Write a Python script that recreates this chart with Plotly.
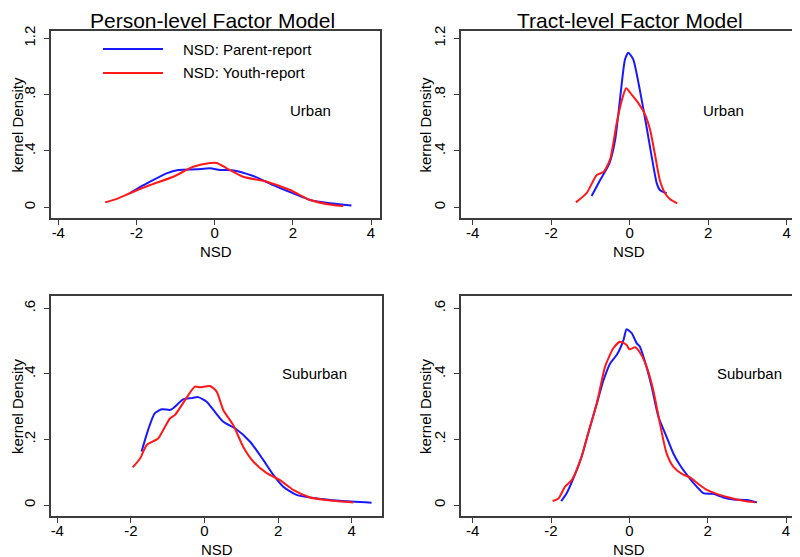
import plotly.graph_objects as go

# ---------------- data ----------------
# Person-level, Urban
pu_parent_x = [-2.17, -1.9, -1.65, -1.23, -0.93, -0.46, -0.12, 0.14, 0.48, 0.99, 1.5, 2.01, 2.44, 2.95, 3.5]
pu_parent_y = [0.10, 0.145, 0.182, 0.241, 0.265, 0.27, 0.277, 0.265, 0.262, 0.222, 0.158, 0.099, 0.052, 0.028, 0.012]
pu_youth_x = [-2.8, -2.5, -2.17, -1.65, -1.06, -0.55, -0.16, 0.05, 0.31, 0.73, 1.33, 1.93, 2.44, 3.03, 3.29]
pu_youth_y = [0.035, 0.06, 0.10, 0.158, 0.217, 0.288, 0.313, 0.315, 0.277, 0.217, 0.182, 0.123, 0.052, 0.016, 0.01]

# Tract-level, Urban
tu_parent_x = [-0.97, -0.76, -0.52, -0.37, -0.25, -0.12, -0.035, 0.09, 0.26, 0.43, 0.56, 0.69, 0.77, 0.94]
tu_parent_y = [0.08, 0.19, 0.31, 0.48, 0.76, 1.05, 1.098, 1.05, 0.83, 0.57, 0.36, 0.17, 0.123, 0.10]
tu_youth_x = [-1.37, -1.10, -0.84, -0.67, -0.50, -0.33, -0.20, -0.09, 0.05, 0.22, 0.39, 0.52, 0.64, 0.77, 0.90, 1.03, 1.21]
tu_youth_y = [0.035, 0.10, 0.23, 0.25, 0.34, 0.60, 0.76, 0.845, 0.80, 0.74, 0.66, 0.55, 0.38, 0.19, 0.10, 0.057, 0.028]

# Person-level, Suburban
ps_parent_x = [-1.71, -1.53, -1.35, -1.16, -0.94, -0.85, -0.58, -0.35, -0.17, 0.06, 0.24, 0.51, 0.83, 1.24, 1.6, 1.87, 2.14, 2.5, 3.05, 3.68, 4.54]
ps_parent_y = [0.163, 0.23, 0.28, 0.292, 0.29, 0.295, 0.322, 0.326, 0.329, 0.315, 0.29, 0.254, 0.234, 0.193, 0.137, 0.092, 0.056, 0.031, 0.02, 0.013, 0.007]
ps_youth_x = [-1.95, -1.75, -1.57, -1.26, -1.12, -0.94, -0.8, -0.53, -0.26, -0.12, 0.15, 0.33, 0.51, 0.78, 1.05, 1.33, 1.69, 2.05, 2.41, 2.87, 3.5, 4.04]
ps_youth_y = [0.115, 0.142, 0.183, 0.203, 0.229, 0.264, 0.275, 0.32, 0.361, 0.359, 0.363, 0.346, 0.29, 0.244, 0.178, 0.132, 0.097, 0.076, 0.046, 0.023, 0.013, 0.008]

# Tract-level, Suburban
ts_parent_x = [-1.74, -1.6, -1.43, -1.22, -1.05, -0.83, -0.66, -0.49, -0.32, -0.15, -0.07, 0.06, 0.19, 0.27, 0.4, 0.57, 0.74, 0.95, 1.12, 1.29, 1.51, 1.72, 1.89, 2.14, 2.4, 2.66, 3.0, 3.26]
ts_parent_y = [0.012, 0.036, 0.081, 0.147, 0.219, 0.31, 0.381, 0.432, 0.458, 0.503, 0.536, 0.524, 0.493, 0.483, 0.437, 0.361, 0.27, 0.208, 0.158, 0.122, 0.086, 0.056, 0.036, 0.034, 0.023, 0.017, 0.015, 0.008]
ts_youth_x = [-1.96, -1.81, -1.64, -1.47, -1.22, -1.05, -0.83, -0.62, -0.41, -0.24, -0.07, 0.0, 0.15, 0.27, 0.44, 0.61, 0.78, 0.95, 1.12, 1.34, 1.55, 1.76, 1.98, 2.23, 2.57, 2.91, 3.21]
ts_youth_y = [0.012, 0.02, 0.056, 0.076, 0.147, 0.219, 0.31, 0.422, 0.478, 0.498, 0.488, 0.475, 0.481, 0.465, 0.422, 0.351, 0.249, 0.158, 0.117, 0.095, 0.084, 0.064, 0.046, 0.034, 0.022, 0.013, 0.008]

x_tickvals = [-4, -2, 0, 2, 4]
x_ticktext = ["-4", "-2", "0", "2", "4"]
y_top_tickvals = [0, 0.4, 0.8, 1.2]
y_top_ticktext = ["0", ".4", ".8", "1.2"]
y_bot_tickvals = [0, 0.2, 0.4, 0.6]
y_bot_ticktext = ["0", ".2", ".4", ".6"]

panel_titles = ["Person-level Factor Model", "Tract-level Factor Model"]
legend_labels = ["NSD: Parent-report", "NSD: Youth-report"]
area_labels = ["Urban", "Urban", "Suburban", "Suburban"]
x_title = "NSD"
y_title = "kernel Density"

# ---------------- styling ----------------
BLUE = "rgb(25,25,255)"
RED = "rgb(255,25,25)"
FONT = "Liberation Sans, Arial, Helvetica, sans-serif"
FS = 15
OFF = 8  # the page body margin shifts the figure by 8px
W, H = 800 - OFF, 557 - OFF
FRAME = "#3c3c3c"


def fx(X):
    return (X - OFF) / W


def fy(Y):
    return 1 - (Y - OFF) / H


def span(lo_px, hi_px, v0, p0, v1, p1):
    """axis range so that value v0 sits at pixel p0 and v1 at pixel p1"""
    k = (v1 - v0) / (p1 - p0)
    return [v0 + (lo_px - p0) * k, v0 + (hi_px - p0) * k]


fig = go.Figure()

panels = [
    (pu_parent_x, pu_parent_y, pu_youth_x, pu_youth_y),
    (tu_parent_x, tu_parent_y, tu_youth_x, tu_youth_y),
    (ps_parent_x, ps_parent_y, ps_youth_x, ps_youth_y),
    (ts_parent_x, ts_parent_y, ts_youth_x, ts_youth_y),
]
for i, (px, py, yx, yy) in enumerate(panels):
    ax = "" if i == 0 else str(i + 1)
    fig.add_trace(go.Scatter(x=px, y=py, mode="lines", line=dict(color=BLUE, width=2, shape="spline", smoothing=0.6),
                             name=legend_labels[0], showlegend=False, xaxis="x" + ax, yaxis="y" + ax))
    fig.add_trace(go.Scatter(x=yx, y=yy, mode="lines", line=dict(color=RED, width=2, shape="spline", smoothing=0.6),
                             name=legend_labels[1], showlegend=False, xaxis="x" + ax, yaxis="y" + ax))

# panel geometry in screen pixels: box (left, right, top, bottom), x calib (-4 px, 4 px), y calib (0 px, top-tick px)
geo = [
    ((51, 380, 31, 218), (58.3, 371.0), (207.3, 38.3), 1.2, y_top_tickvals, y_top_ticktext, 17),
    ((461, 796, 31, 218), (472.7, 786.7), (207.3, 38.3), 1.2, y_top_tickvals, y_top_ticktext, 425),
    ((51, 382, 296, 516), (57.3, 351.7), (505.0, 308.3), 0.6, y_bot_tickvals, y_bot_ticktext, 17),
    ((461, 796, 296, 516), (472.7, 786.0), (505.0, 308.3), 0.6, y_bot_tickvals, y_bot_ticktext, 425),
]
layout = {}
common = dict(showgrid=False, zeroline=False, showline=True, linecolor=FRAME, linewidth=1.5, mirror=True,
              ticks="outside", ticklen=5, tickwidth=1, tickcolor=FRAME, automargin=False,
              tickfont=dict(family=FONT, size=FS, color="black"))
annotations = []
for i, ((l, r, t, b), (xm4, xp4), (y0p, ytp), ytopv, ytv, ytt, ytx) in enumerate(geo):
    sfx = "" if i == 0 else str(i + 1)
    xr = span(l, r, -4, xm4, 4, xp4)
    yr = span(b, t, 0, y0p, ytopv, ytp)
    layout["xaxis" + sfx] = dict(common, domain=[fx(l), fx(r)], range=xr, anchor="y" + sfx,
                                 tickvals=x_tickvals, ticktext=x_ticktext, ticklabelstandoff=-5)
    layout["yaxis" + sfx] = dict(common, domain=[fy(b), fy(t)], range=yr, anchor="x" + sfx,
                                 tickvals=ytv, ticktext=ytt, tickangle=-90, ticklabelstandoff=3)
    # axis titles
    annotations.append(dict(x=fx((l + r) / 2), y=fy(b + 33), xref="paper", yref="paper", text=x_title,
                            showarrow=False, font=dict(family=FONT, size=FS, color="black"),
                            xanchor="center", yanchor="middle"))
    annotations.append(dict(x=fx(ytx), y=fy((t + b) / 2), xref="paper", yref="paper", text=y_title,
                            showarrow=False, textangle=-90, font=dict(family=FONT, size=FS, color="black"),
                            xanchor="center", yanchor="middle"))
fig.update_layout(**layout)

# panel titles
for txt, cx in zip(panel_titles, [213, 630]):
    annotations.append(dict(x=fx(cx), y=fy(21), xref="paper", yref="paper", text=txt, showarrow=False,
                            font=dict(family=FONT, size=21, color="black"), xanchor="center", yanchor="middle"))
# area labels (in data coordinates)
area_pos = [(2.44, 0.69), (2.39, 0.69), (3.0, 0.40), (3.07, 0.40)]
for i, (txt, (ax_, ay_)) in enumerate(zip(area_labels, area_pos)):
    sfx = "" if i == 0 else str(i + 1)
    annotations.append(dict(x=ax_, y=ay_, xref="x" + sfx, yref="y" + sfx, text=txt, showarrow=False,
                            font=dict(family=FONT, size=FS, color="black"), xanchor="center", yanchor="middle"))
# legend text
for k, yy in enumerate([49, 73]):
    annotations.append(dict(x=fx(181), y=fy(yy), xref="paper", yref="paper", text=legend_labels[k], showarrow=False,
                            font=dict(family=FONT, size=FS, color="black"), xanchor="left", yanchor="middle"))
shapes = []
for k, (yy, col) in enumerate([(49, BLUE), (73, RED)]):
    shapes.append(dict(type="line", xref="paper", yref="paper", x0=fx(103), x1=fx(163), y0=fy(yy), y1=fy(yy),
                       line=dict(color=col, width=2)))

fig.update_layout(width=W, height=H, margin=dict(l=0, r=0, t=0, b=0), paper_bgcolor="white", plot_bgcolor="white",
                  annotations=annotations, shapes=shapes, showlegend=False)

fig.write_html("out.html")
